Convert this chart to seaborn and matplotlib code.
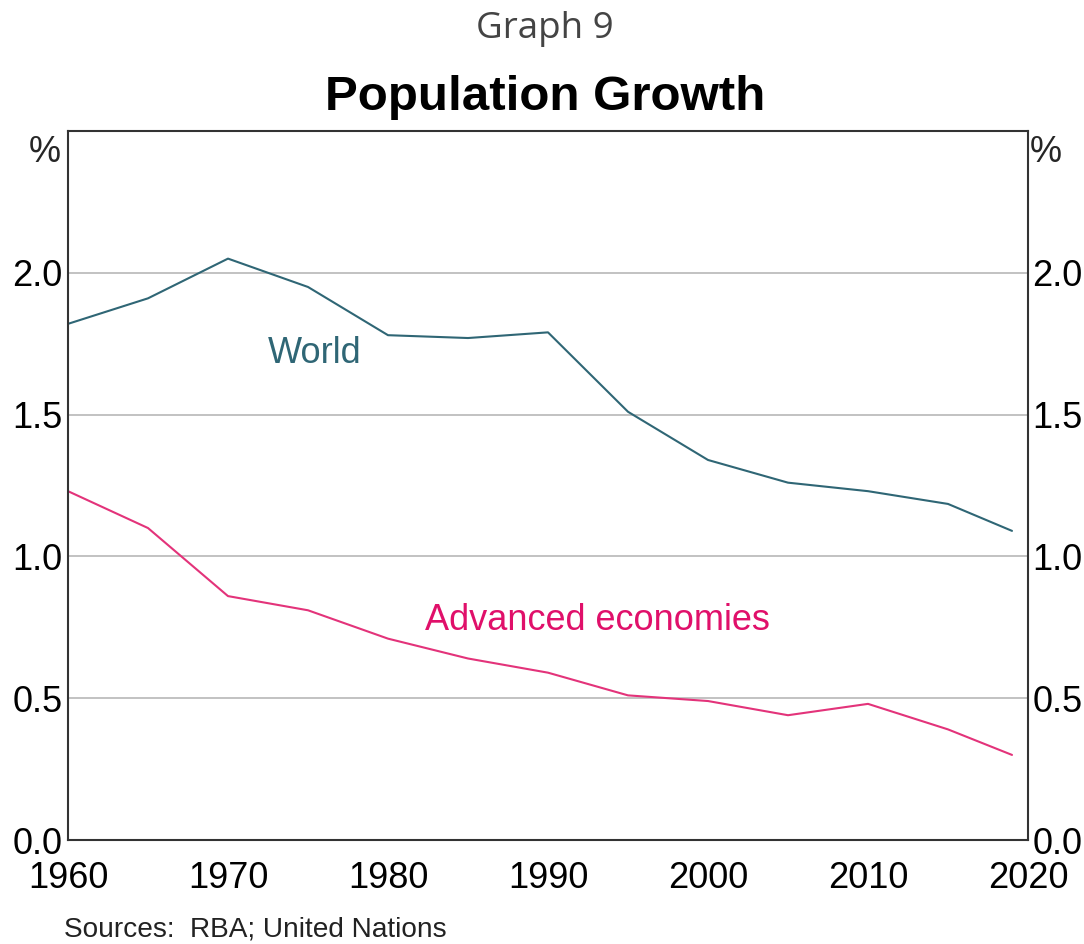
import matplotlib
matplotlib.use("Agg")
import matplotlib.pyplot as plt
import seaborn as sns
import pandas as pd

years = [1960, 1965, 1970, 1975, 1980, 1985, 1990, 1995, 2000, 2005, 2010, 2015, 2019]
world = [1.82, 1.91, 2.05, 1.95, 1.78, 1.77, 1.79, 1.51, 1.34, 1.26, 1.23, 1.185, 1.09]
advanced = [1.23, 1.10, 0.86, 0.81, 0.71, 0.64, 0.59, 0.51, 0.49, 0.44, 0.48, 0.39, 0.30]
series_names = ["World", "Advanced economies"]
x_ticks = [1960, 1970, 1980, 1990, 2000, 2010, 2020]
y_ticks = [0.0, 0.5, 1.0, 1.5, 2.0]
y_tick_labels = ["0.0", "0.5", "1.0", "1.5", "2.0"]

world_col = "#2f6675"
adv_col = "#e3337a"
adv_text = "#e0106a"
FS = 26

sns.set_theme(style="white")
plt.rcParams["font.family"] = ["Liberation Sans", "DejaVu Sans"]

df = pd.DataFrame({
    "year": years * 2,
    "value": world + advanced,
    "series": [series_names[0]] * len(years) + [series_names[1]] * len(years),
})

fig = plt.figure(figsize=(10.84, 9.44), dpi=100)
ax = fig.add_axes([68 / 1084, 1 - 840 / 944, 960 / 1084, 709 / 944])

sns.lineplot(data=df, x="year", y="value", hue="series",
             palette={series_names[0]: world_col, series_names[1]: adv_col},
             linewidth=1.5, legend=False, ax=ax)

ax.set_xlim(1960, 2020)
ax.set_ylim(0, 2.5)
ax.set_xlabel("")
ax.set_ylabel("")
ax.set_xticks(x_ticks)
ax.set_xticklabels([str(t) for t in x_ticks])
ax.set_yticks(y_ticks)
ax.set_yticklabels(y_tick_labels)

for y in y_ticks[1:]:
    ax.axhline(y, color="#b8b8b8", linewidth=1.2, zorder=0)

for s in ax.spines.values():
    s.set_visible(True)
    s.set_color("#333333")
    s.set_linewidth(1.5)

ax.tick_params(axis="x", direction="in", length=11, width=1.5, color="#333333",
               labelsize=FS, pad=15, labelcolor="black")
ax.tick_params(axis="y", length=0, labelsize=FS, pad=4, labelcolor="black")

ax2 = ax.twinx()
ax2.set_ylim(ax.get_ylim())
ax2.set_yticks(y_ticks)
ax2.set_yticklabels(y_tick_labels)
ax2.tick_params(axis="y", length=0, labelsize=FS, pad=3, labelcolor="black")
for s in ax2.spines.values():
    s.set_visible(False)

ax.text(-0.024, 0.97, "%", transform=ax.transAxes, ha="center", va="center", fontsize=FS)
ax.text(1.018, 0.97, "%", transform=ax.transAxes, ha="center", va="center", fontsize=FS)

ax.text(1972.5, 1.715, "World", color=world_col, fontsize=FS, ha="left", va="center")
ax.text(1982.3, 0.775, "Advanced economies", color=adv_text, fontsize=FS, ha="left", va="center")

fig.text(545 / 1084, 1 - 29 / 944, "Graph 9", ha="center", va="center",
         fontsize=26.5, color="#444444", family=["Open Sans", "DejaVu Sans"])
fig.text(545 / 1084, 1 - 97 / 944, "Population Growth", ha="center", va="center",
         fontsize=35.5, fontweight="bold", color="black")
fig.text(64 / 1084, 1 - 930 / 944, "Sources:  RBA; United Nations", ha="left", va="center",
         fontsize=20.2, color="#222222")

fig.savefig("out.png", dpi=100)
